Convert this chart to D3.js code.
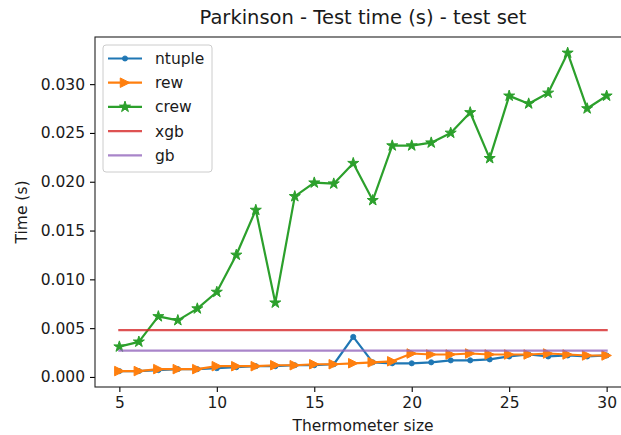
<!DOCTYPE html>
<html>
<head>
<meta charset="utf-8">
<script src="https://cdn.jsdelivr.net/npm/d3@7/dist/d3.min.js"></script>
<style>
  html, body { margin: 0; padding: 0; background: #fff; }
  svg { display: block; font-family: "DejaVu Sans", sans-serif; }
</style>
</head>
<body>
<svg id="chart" width="621" height="435"></svg>
<script>
// Thermometer sizes on the x axis
const sizes = d3.range(5, 31);

// Test time (seconds) per model
const ntupleTime = [0.0006, 0.0006, 0.0007, 0.0008, 0.0008, 0.0009, 0.0010, 0.0011, 0.0011, 0.0012,
                    0.0012, 0.0013, 0.0041, 0.0015, 0.0014, 0.0014, 0.0015, 0.0017, 0.0017, 0.0018,
                    0.0021, 0.0023, 0.0021, 0.0022, 0.0021, 0.0022];
const rewTime    = [0.0006, 0.0006, 0.0008, 0.0008, 0.0008, 0.0011, 0.0011, 0.0011, 0.0012, 0.0012,
                    0.0013, 0.0013, 0.0014, 0.0015, 0.0016, 0.0024, 0.0023, 0.0023, 0.0024, 0.0023,
                    0.0023, 0.0023, 0.0024, 0.0023, 0.0022, 0.0022];
const crewTime   = [0.0031, 0.0036, 0.0062, 0.0058, 0.0070, 0.0087, 0.0125, 0.0171, 0.0076, 0.0185,
                    0.0199, 0.0198, 0.0219, 0.0181, 0.0237, 0.0237, 0.0240, 0.0250, 0.0271, 0.0224,
                    0.0288, 0.0280, 0.0291, 0.0332, 0.0275, 0.0288];
// Baselines that do not depend on thermometer size
const xgbTime = 0.0048;
const gbTime  = 0.0027;

const xTicks = [5, 10, 15, 20, 25, 30];
const yTicks = [0, 0.005, 0.010, 0.015, 0.020, 0.025, 0.030];

const series = [
  { name: "ntuple", color: "#1f77b4", values: ntupleTime, marker: "point" },
  { name: "rew",    color: "#ff7f0e", values: rewTime,    marker: "triangle" },
  { name: "crew",   color: "#2ca02c", values: crewTime,   marker: "star" },
  { name: "xgb",    color: "#d62728", values: sizes.map(() => xgbTime), marker: null, opacity: 0.8 },
  { name: "gb",     color: "#9467bd", values: sizes.map(() => gbTime),  marker: null, opacity: 0.8 }
];

const svg = d3.select("#chart");
const plot = { left: 95, right: 631, top: 37, bottom: 387 };
const FONT = 15.5;

// axis limits with matplotlib-style 5% padding
const allY = [].concat(ntupleTime, rewTime, crewTime, [xgbTime, gbTime]);
const yMin = d3.min(allY), yMax = d3.max(allY);
const yPad = (yMax - yMin) * 0.05;
const xPad = (30 - 5) * 0.05;

const x = d3.scaleLinear().domain([5 - xPad, 30 + xPad]).range([plot.left, plot.right]);
const y = d3.scaleLinear().domain([yMin - yPad, yMax + yPad]).range([plot.bottom, plot.top]);

// marker shapes
function starPath(r) {
  const inner = r * 0.381966;
  const pts = [];
  for (let i = 0; i < 10; i++) {
    const rad = i % 2 === 0 ? r : inner;
    const a = -Math.PI / 2 + i * Math.PI / 5;
    pts.push([rad * Math.cos(a), rad * Math.sin(a)]);
  }
  return "M" + pts.map(p => p.join(",")).join("L") + "Z";
}
function trianglePath(s) {
  const h = s / 2;
  return `M${h},0L${-h},${-h}L${-h},${h}Z`;
}
function drawMarker(g, kind, color) {
  if (kind === "point") {
    g.append("circle").attr("r", 2.6).attr("fill", color).attr("stroke", color).attr("stroke-width", 0.8);
  } else if (kind === "triangle") {
    g.append("path").attr("d", trianglePath(9.5)).attr("fill", color).attr("stroke", color).attr("stroke-width", 1);
  } else if (kind === "star") {
    g.append("path").attr("d", starPath(5.8)).attr("fill", color).attr("stroke", color).attr("stroke-width", 1);
  }
}

const clipId = "plot-clip";
svg.append("defs").append("clipPath").attr("id", clipId)
  .append("rect").attr("x", plot.left).attr("y", plot.top)
  .attr("width", plot.right - plot.left).attr("height", plot.bottom - plot.top);

const line = d3.line().x((d, i) => x(sizes[i])).y(d => y(d));
const dataLayer = svg.append("g").attr("clip-path", `url(#${clipId})`);

series.forEach(s => {
  const g = dataLayer.append("g").attr("opacity", s.opacity || 1);
  g.append("path")
    .datum(s.values)
    .attr("d", line)
    .attr("fill", "none")
    .attr("stroke", s.color)
    .attr("stroke-width", 2.2)
    .attr("stroke-linejoin", "round")
    .attr("stroke-linecap", "square");
  if (s.marker) {
    s.values.forEach((v, i) => {
      const m = g.append("g").attr("transform", `translate(${x(sizes[i])},${y(v)})`);
      drawMarker(m, s.marker, s.color);
    });
  }
});

// axes
const xAxis = d3.axisBottom(x).tickValues(xTicks).tickFormat(d3.format("d")).tickSize(5).tickPadding(5);
const yAxis = d3.axisLeft(y).tickValues(yTicks).tickFormat(d3.format(".3f")).tickSize(5).tickPadding(5);

const gx = svg.append("g").attr("transform", `translate(0,${plot.bottom})`).call(xAxis);
const gy = svg.append("g").attr("transform", `translate(${plot.left},0)`).call(yAxis);
[gx, gy].forEach(g => {
  g.select(".domain").remove();
  g.selectAll(".tick line").attr("stroke", "#000").attr("stroke-width", 1.1);
  g.selectAll(".tick text").attr("fill", "#1a1a1a").attr("font-size", FONT)
    .attr("font-family", "DejaVu Sans, sans-serif");
});

// frame
svg.append("rect")
  .attr("x", plot.left).attr("y", plot.top)
  .attr("width", plot.right - plot.left).attr("height", plot.bottom - plot.top)
  .attr("fill", "none").attr("stroke", "#222").attr("stroke-width", 1.1);

// titles
const cx = (plot.left + plot.right) / 2;
svg.append("text").attr("x", cx).attr("y", 24).attr("text-anchor", "middle")
  .attr("font-size", 19.5).attr("fill", "#1a1a1a").text("Parkinson - Test time (s) - test set");
svg.append("text").attr("x", cx).attr("y", 431).attr("text-anchor", "middle")
  .attr("font-size", FONT).attr("fill", "#1a1a1a").text("Thermometer size");
svg.append("text")
  .attr("transform", `translate(27,${(plot.top + plot.bottom) / 2}) rotate(-90)`)
  .attr("text-anchor", "middle").attr("font-size", FONT).attr("fill", "#1a1a1a").text("Time (s)");

// legend
const legend = svg.append("g");
legend.append("rect")
  .attr("x", 103).attr("y", 45).attr("width", 109).attr("height", 127)
  .attr("rx", 3).attr("fill", "#fff").attr("fill-opacity", 0.8)
  .attr("stroke", "#cccccc").attr("stroke-width", 1);
series.forEach((s, i) => {
  const yy = 58.5 + i * 24.2;
  const g = legend.append("g").attr("opacity", s.opacity || 1);
  g.append("line").attr("x1", 108).attr("x2", 142).attr("y1", yy).attr("y2", yy)
    .attr("stroke", s.color).attr("stroke-width", 2.2);
  if (s.marker) {
    const m = g.append("g").attr("transform", `translate(125,${yy})`);
    drawMarker(m, s.marker, s.color);
  }
  legend.append("text").attr("x", 155).attr("y", yy + 5.5)
    .attr("font-size", FONT).attr("fill", "#1a1a1a").text(s.name);
});
</script>
</body>
</html>
